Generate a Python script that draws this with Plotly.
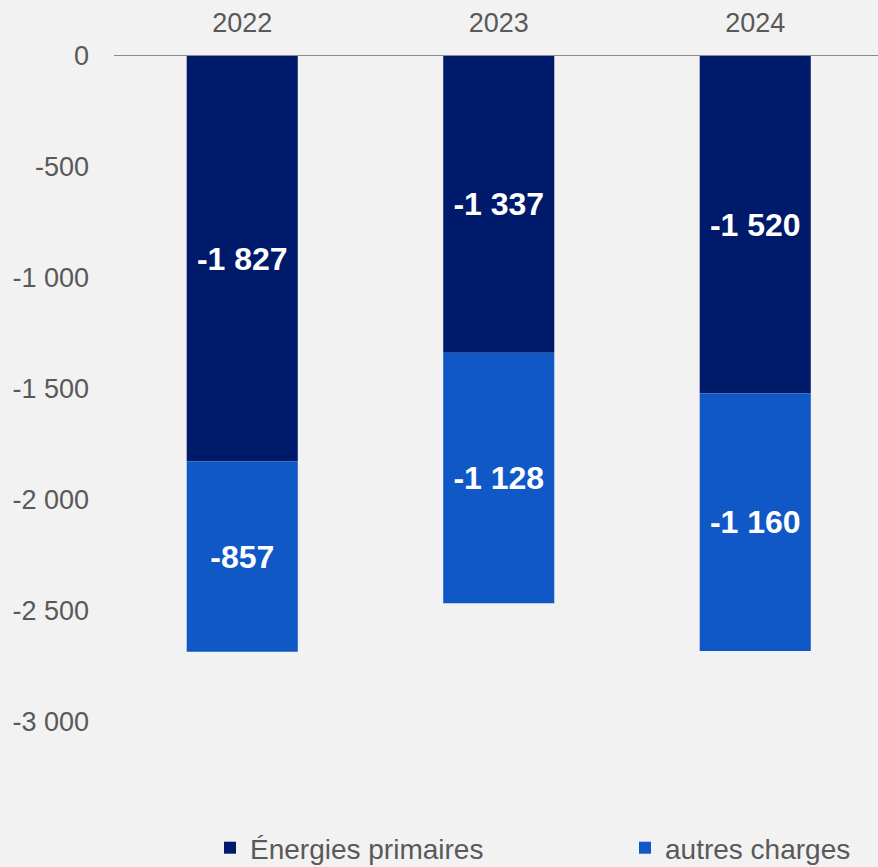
import plotly.graph_objects as go

years = ["2022", "2023", "2024"]
energies_primaires = [-1827, -1337, -1520]
autres_charges = [-857, -1128, -1160]
y_tickvals = [0, -500, -1000, -1500, -2000, -2500, -3000]
y_ticktext = ["0", "-500", "-1 000", "-1 500", "-2 000", "-2 500", "-3 000"]

def fmt(v):
    return f"{v:,}".replace(",", " ")

FONT = "Liberation Sans, Arial, sans-serif"
GRAY = "#595959"

fig = go.Figure()
fig.add_trace(go.Bar(
    x=years, y=energies_primaires, name="Énergies primaires",
    marker=dict(color="#001a6b", line=dict(width=0)),
    text=[fmt(v) for v in energies_primaires], textposition="inside",
    insidetextanchor="middle", textangle=0,
    textfont=dict(family=FONT, size=32, color="white", weight="bold"),
    width=0.433, legend="legend", showlegend=True,
))
fig.add_trace(go.Bar(
    x=years, y=autres_charges, name="autres charges",
    marker=dict(color="#1158c7", line=dict(width=0)),
    text=[fmt(v) for v in autres_charges], textposition="inside",
    insidetextanchor="middle", textangle=0,
    textfont=dict(family=FONT, size=32, color="white", weight="bold"),
    width=0.433, legend="legend2", showlegend=True,
))

fig.update_layout(
    barmode="relative",
    width=878, height=867,
    showlegend=True,
    margin=dict(l=114, r=0, t=56, b=66),
    paper_bgcolor="#f2f2f2", plot_bgcolor="#f2f2f2",
    font=dict(family=FONT, size=27, color=GRAY),
    legend=dict(orientation="h", xref="container", yref="container",
                x=210/878, y=1-848/867, xanchor="left", yanchor="middle",
                font=dict(family=FONT, size=28, color=GRAY), bgcolor="rgba(0,0,0,0)"),
    legend2=dict(orientation="h", xref="container", yref="container",
                 x=625/878, y=1-848/867, xanchor="left", yanchor="middle",
                 font=dict(family=FONT, size=28, color=GRAY), bgcolor="rgba(0,0,0,0)"),
)
fig.update_xaxes(
    side="top", type="category", range=[-0.5, -0.5 + 764/256.5],
    showline=True, linecolor="#8c8c8c", linewidth=1,
    showgrid=False, zeroline=False, ticks="", ticklabelstandoff=12,
    tickfont=dict(family=FONT, size=27, color=GRAY),
)
fig.update_yaxes(
    range=[-745/0.222, 0], tickvals=y_tickvals, ticktext=y_ticktext,
    showgrid=False, zeroline=False, showline=False, ticks="",
    ticklabelstandoff=24,
    tickfont=dict(family=FONT, size=27, color=GRAY),
)

fig.write_html("out.html", config={"displayModeBar": False},
               post_script="document.body.style.margin='0';document.body.style.overflow='hidden';")
